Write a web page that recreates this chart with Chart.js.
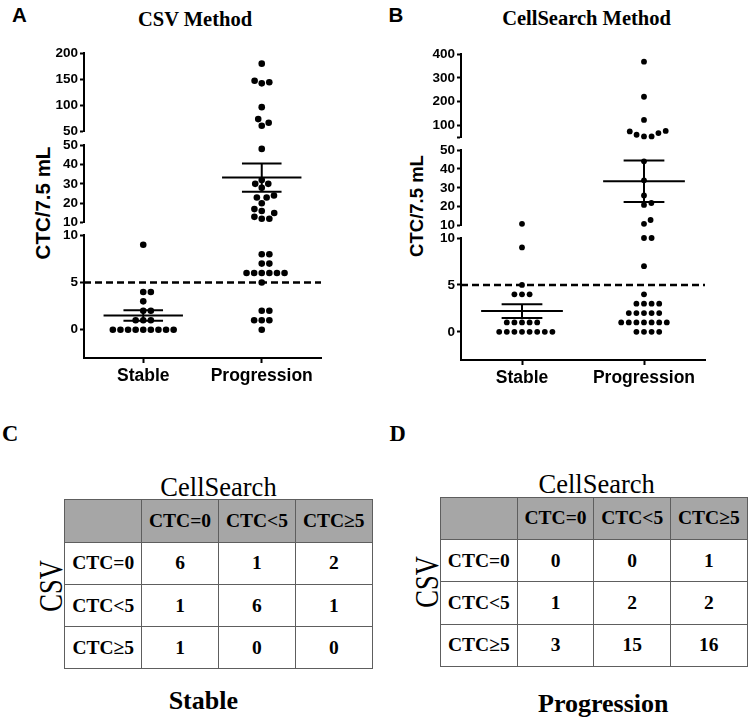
<!DOCTYPE html>
<html>
<head>
<meta charset="utf-8">
<script src="https://cdn.jsdelivr.net/npm/chart.js@4.4.1/dist/chart.umd.min.js"></script>
<style>
  body { margin: 0; background: #fff; }
  #page { position: relative; width: 750px; height: 718px; overflow: hidden; background: #fff; }
  .abs { position: absolute; white-space: nowrap; line-height: 1; color: #000; }
  .letter { font: bold 20.5px "Liberation Sans", Arial, sans-serif; }
  .letter-serif { font: bold 22.5px "Liberation Serif", "Times New Roman", serif; }
  .ptitle { font: bold 20.5px "Liberation Serif", "Times New Roman", serif; transform: translateX(-50%); }
  .ytitle { font-family: "Liberation Sans", Arial, sans-serif; font-weight: bold; transform: translate(-50%, -50%) rotate(-90deg); }
  .tlabel { font: 26.5px "Liberation Serif", "Times New Roman", serif; transform: translateX(-50%); }
  .csv { font: 34px "Liberation Serif", "Times New Roman", serif; transform: translate(-50%, -50%) rotate(-90deg) scaleX(0.78); }
  .tfoot { font: bold 26px "Liberation Serif", "Times New Roman", serif; transform: translateX(-50%); }
  .chart { position: absolute; top: 0; }
  table.ct { position: absolute; border-collapse: collapse; table-layout: fixed; }
  table.ct td, table.ct th {
    border: 1.5px solid #5e5e5e; padding: 0; text-align: center; vertical-align: middle;
    font: bold 19.5px "Liberation Serif", "Times New Roman", serif; color: #000;
  }
  table.ct th { background: #a6a6a6; }
</style>
</head>
<body>
<div id="page">
  <div class="abs letter" style="left:12px; top:3.3px;">A</div>
  <div class="abs letter" style="left:388.5px; top:3.3px;">B</div>
  <div class="abs ptitle" style="left:195px; top:8px;">CSV Method</div>
  <div class="abs ptitle" style="left:586.5px; top:6.5px;">CellSearch Method</div>
  <div class="abs ytitle" style="left:42.5px; top:203.3px; font-size:20.5px;">CTC/7.5 mL</div>
  <div class="abs ytitle" style="left:417px; top:205.8px; font-size:18.5px;">CTC/7.5 mL</div>

  <canvas id="chartA" class="chart" style="left:0;" width="375" height="400"></canvas>
  <canvas id="chartB" class="chart" style="left:375px;" width="375" height="400"></canvas>

  <div class="abs letter-serif" style="left:2px; top:421px;">C</div>
  <div class="abs letter-serif" style="left:389.5px; top:421px;">D</div>
  <div class="abs tlabel" style="left:218.5px; top:472px;">CellSearch</div>
  <div class="abs tlabel" style="left:596.7px; top:469px;">CellSearch</div>
  <div class="abs csv" style="left:51.3px; top:585.8px;">CSV</div>
  <div class="abs csv" style="left:426.7px; top:581.7px;">CSV</div>
  <table id="tableC" class="ct" style="left:64.3px; top:499.3px; width:308.4px;"></table>
  <table id="tableD" class="ct" style="left:440px; top:496.7px; width:307.7px;"></table>
  <div class="abs tfoot" style="left:203.3px; top:685.5px;">Stable</div>
  <div class="abs tfoot" style="left:603.3px; top:688.5px;">Progression</div>
</div>

<script>
// groups on the x axis
const groups = ["Stable", "Progression"];

// CTC counts per 7.5 mL
const csvStable = [0, 0, 0, 0, 0, 0, 0, 0, 0, 1, 1, 1, 2, 2, 3, 4, 4, 9];
const csvProgression = [
  0, 1, 1, 1, 2, 2, 5, 6, 6, 6, 6, 6, 6, 7, 7, 8, 8,
  12, 12, 13, 15, 16, 17, 20, 23, 23, 24, 28, 30, 30, 32, 48,
  60, 66, 73, 96, 142, 144, 147, 180
];
const cellSearchStable = [0, 0, 0, 0, 0, 0, 0, 0, 1, 1, 1, 1, 1, 4, 4, 4, 5, 9, 11];
const cellSearchProgression = [
  0, 0, 0, 0, 1, 1, 1, 1, 1, 1, 1, 2, 2, 2, 2, 2, 3, 3, 3, 3, 4, 7,
  10, 10, 11, 13, 21, 22, 26, 34, 44,
  55, 55, 62, 69, 76, 78, 124, 221, 368
];
const cutoff = 5;

// broken y axis: segment ranges and tick labels
const lowRange = [-3, 10];
const midRange = [10, 50];
const csvTopRange = [50, 200];
const cellSearchTopRange = [50, 400];
const lowTicks = [0, 5, 10];
const midTicks = [10, 20, 30, 40, 50];
const csvTopTicks = [50, 100, 150, 200];
const cellSearchTopTicks = [50, 100, 200, 300, 400];
const cellSearchTopLabels = [100, 200, 300, 400];

// concordance tables
const csvLevels = ["CTC=0", "CTC<5", "CTC\u22655"];
const cellSearchLevels = ["CTC=0", "CTC<5", "CTC\u22655"];
const stableCounts = [[6, 1, 2], [1, 6, 1], [1, 0, 0]];
const progressionCounts = [[0, 0, 1], [1, 2, 2], [3, 15, 16]];

const tickFont = { family: "'Liberation Sans', Arial, sans-serif", weight: "bold", size: 13.5 };
const catFont = { family: "'Liberation Sans', Arial, sans-serif", weight: "bold", size: 17.5 };

function axisFor(v) {
  if (v <= midRange[0]) return "yLow";
  if (v <= midRange[1]) return "yMid";
  return "yTop";
}

function meanSem(a) {
  const m = a.reduce((s, v) => s + v, 0) / a.length;
  const ss = a.reduce((s, v) => s + (v - m) * (v - m), 0);
  return [m, Math.sqrt(ss / (a.length - 1)) / Math.sqrt(a.length)];
}

function segment(x1, y1, x2, y2, width, dash) {
  return {
    type: "line",
    data: [{ x: x1, y: y1 }, { x: x2, y: y2 }],
    yAxisID: axisFor(Math.max(y1, y2)),
    borderColor: "#000",
    borderWidth: width,
    borderDash: dash || [],
    pointRadius: 0,
    fill: false,
  };
}

function yAxis(range, ticks, labels, weight) {
  return {
    type: "linear",
    position: "left",
    stack: "y",
    stackWeight: weight,
    min: range[0],
    max: range[1],
    grid: { drawOnChartArea: false, drawTicks: true, tickLength: 4, tickWidth: 2, tickColor: "#000" },
    border: { display: true, color: "#000", width: 2 },
    ticks: {
      color: "#000",
      padding: 2,
      autoSkip: false,
      font: tickFont,
      callback: (v) => (labels.includes(v) ? String(v) : ""),
    },
    afterBuildTicks: (s) => { s.ticks = ticks.map((v) => ({ value: v })); },
    afterFit: (s) => { s.width = 40; },
  };
}

function gapAxis(weight) {
  return {
    type: "linear",
    position: "left",
    stack: "y",
    stackWeight: weight,
    min: 0,
    max: 1,
    grid: { display: false, drawTicks: false },
    border: { display: false },
    ticks: { display: false },
    afterFit: (s) => { s.width = 40; },
  };
}

// spread dots of one column sideways so they do not overlap
function swarm(chart, values, group, diam, out) {
  const xs = chart.scales.x;
  const unit = xs.getPixelForValue(1) - xs.getPixelForValue(0);
  const pts = values
    .map((v) => ({ v: v, axis: axisFor(v), py: chart.scales[axisFor(v)].getPixelForValue(v) }))
    .sort((a, b) => b.py - a.py);
  const placed = [];
  pts.forEach((p) => {
    const cands = [0];
    placed.forEach((q) => {
      const dy = Math.abs(q.py - p.py);
      if (dy < diam) {
        const dx = Math.sqrt(diam * diam - dy * dy);
        cands.push(q.dx + dx, q.dx - dx);
      }
    });
    cands.sort((a, b) => Math.abs(a) - Math.abs(b) || b - a);
    const ok = cands.find((c) =>
      placed.every((q) => (q.dx - c) * (q.dx - c) + (q.py - p.py) * (q.py - p.py) >= diam * diam - 0.01)
    );
    p.dx = ok;
    placed.push(p);
    out[p.axis].push({ x: group + ok / unit, y: p.v });
  });
}

function buildChart(id, cols, topRange, topTicks, topLabels, weights, pad, bottomH, radius, diam) {
  const dotSets = ["yLow", "yMid", "yTop"].map((ax) => ({
    type: "scatter",
    data: [],
    yAxisID: ax,
    clip: false,
    pointRadius: radius,
    pointHoverRadius: radius,
    pointBackgroundColor: "#000",
    pointBorderWidth: 0,
    showLine: false,
  }));

  const lines = [segment(-0.5, cutoff, 1.5, cutoff, 2.5, [7, 4])];
  cols.forEach((vals, g) => {
    const [m, se] = meanSem(vals);
    lines.push(segment(g - 0.335, m, g + 0.335, m, 2));
    lines.push(segment(g - 0.167, m + se, g + 0.167, m + se, 2));
    lines.push(segment(g - 0.167, m - se, g + 0.167, m - se, 2));
    lines.push(segment(g, m - se, g, m + se, 2));
  });

  const chart = new Chart(document.getElementById(id), {
    data: { datasets: dotSets.concat(lines) },
    options: {
      responsive: false,
      animation: false,
      layout: { padding: pad },
      plugins: { legend: { display: false }, tooltip: { enabled: false } },
      scales: {
        x: {
          type: "linear",
          min: -0.5,
          max: 1.5,
          grid: { drawOnChartArea: false, drawTicks: true, tickLength: 5, tickWidth: 2, tickColor: "#000" },
          border: { color: "#000", width: 2 },
          ticks: { color: "#000", padding: 3, font: catFont, callback: (v) => groups[v] || "" },
          afterBuildTicks: (s) => { s.ticks = groups.map((g, i) => ({ value: i })); },
          afterFit: (s) => { s.height = bottomH; },
        },
        yLow: yAxis(lowRange, lowTicks, lowTicks, weights[0]),
        gap1: gapAxis(weights[1]),
        yMid: yAxis(midRange, midTicks, midTicks, weights[2]),
        gap2: gapAxis(weights[3]),
        yTop: yAxis(topRange, topTicks, topLabels, weights[4]),
      },
    },
  });

  const out = { yLow: [], yMid: [], yTop: [] };
  cols.forEach((vals, g) => swarm(chart, vals, g, diam, out));
  dotSets.forEach((ds) => { ds.data = out[ds.yAxisID]; });
  chart.update("none");
  return chart;
}

function fillTable(id, counts) {
  const table = document.getElementById(id);
  const head = document.createElement("tr");
  head.appendChild(document.createElement("th"));
  cellSearchLevels.forEach((l) => {
    const th = document.createElement("th");
    th.textContent = l;
    head.appendChild(th);
  });
  table.appendChild(head);
  counts.forEach((row, i) => {
    const tr = document.createElement("tr");
    const lab = document.createElement("td");
    lab.textContent = csvLevels[i];
    tr.appendChild(lab);
    row.forEach((c) => {
      const td = document.createElement("td");
      td.textContent = c;
      tr.appendChild(td);
    });
    table.appendChild(tr);
  });
  table.querySelectorAll("tr").forEach((tr) => { tr.style.height = "42.3px"; });
}

buildChart("chartA", [csvStable, csvProgression], csvTopRange, csvTopTicks, csvTopTicks,
  [122.7, 12.6, 77.7, 14, 77.7], { left: 44, right: 54, top: 53.3, bottom: 0 }, 42, 3.3, 7.6);
buildChart("chartB", [cellSearchStable, cellSearchProgression], cellSearchTopRange, cellSearchTopTicks, cellSearchTopLabels,
  [122, 12.3, 75.7, 12.4, 83.6], { left: 46, right: 45, top: 54, bottom: 0 }, 40, 2.9, 7.6);

fillTable("tableC", stableCounts);
fillTable("tableD", progressionCounts);
</script>
</body>
</html>
